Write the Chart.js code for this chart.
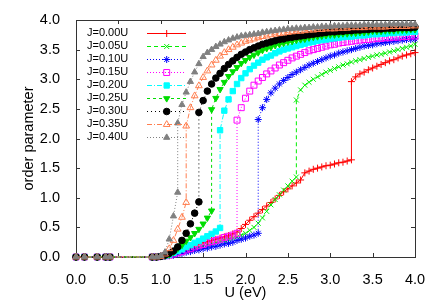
<!DOCTYPE html>
<html><head><meta charset="utf-8">
<script src="https://cdn.jsdelivr.net/npm/chart.js@4"></script>
<style>html,body{margin:0;padding:0;background:#fff}</style>
</head><body>
<canvas id="c" width="436" height="305"></canvas>
<script>
// U grid (eV)
const U = [0.00,0.05,0.10,0.15,0.20,0.25,0.30,0.35,0.40,0.45,
           0.50,0.55,0.60,0.65,0.70,0.75,0.80,0.85,0.90,0.95,
           1.00,1.05,1.10,1.15,1.20,1.25,1.30,1.35,1.40,1.45,
           1.50,1.55,1.60,1.65,1.70,1.75,1.80,1.85,1.90,1.95,
           2.00,2.05,2.10,2.15,2.20,2.25,2.30,2.35,2.40,2.45,
           2.50,2.55,2.60,2.65,2.70,2.75,2.80,2.85,2.90,2.95,
           3.00,3.05,3.10,3.15,3.20,3.25,3.30,3.35,3.40,3.45,
           3.50,3.55,3.60,3.65,3.70,3.75,3.80,3.85,3.90,3.95,
           4.00];

const labels = ['J=0.00U','J=0.05U','J=0.10U','J=0.15U','J=0.20U','J=0.25U','J=0.30U','J=0.35U','J=0.40U'];

const vJ000 = [0,null,0,null,null,0,null,0,0,null, null,null,null,null,null,null,null,null,0,0,
  0.02,0.03,0.05,0.07,0.09,0.11,0.14,0.17,0.19,0.22,
  0.24,0.26,0.28,0.30,0.32,0.34,0.36,0.39,0.42,0.48,
  0.55,0.62,0.68,0.74,0.80,0.86,0.92,0.98,1.04,1.10,
  1.15,1.20,1.25,1.30,1.42,1.45,1.48,1.50,1.52,1.54,
  1.55,1.57,1.59,1.60,1.62,1.64,3.04,3.09,3.12,3.16,
  3.19,3.22,3.25,3.28,3.31,3.33,3.36,3.39,3.41,3.43,
  3.45];
const vJ005 = [0,null,0,null,null,0,null,0,0,null, null,null,null,null,null,null,null,null,0,0,
  0.01,0.02,0.02,0.04,0.06,0.08,0.10,0.12,0.14,0.16,
  0.18,0.20,0.22,0.24,0.26,0.28,0.30,0.32,0.34,0.37,
  0.40,0.45,0.50,0.57,0.66,0.77,0.88,0.97,1.05,1.13,
  1.20,1.28,1.35,2.82,2.90,2.95,3.00,3.04,3.08,3.12,
  3.15,3.18,3.21,3.24,3.26,3.29,3.31,3.33,3.35,3.37,
  3.39,3.41,3.42,3.44,3.46,3.48,3.50,3.52,3.54,3.56,
  3.59];
const vJ010 = [0,null,0,null,null,0,null,0,0,null, null,null,null,null,null,null,null,null,0,0,
  0.01,0.01,0.02,0.03,0.05,0.06,0.08,0.09,0.11,0.12,
  0.14,0.15,0.17,0.18,0.20,0.22,0.23,0.25,0.28,0.30,
  0.32,0.35,0.37,0.40,2.52,2.66,2.77,2.85,2.92,2.98,
  3.03,3.08,3.12,3.16,3.20,3.24,3.27,3.30,3.33,3.36,
  3.39,3.41,3.44,3.46,3.48,3.50,3.52,3.54,3.56,3.57,
  3.58,3.60,3.61,3.62,3.63,3.64,3.65,3.66,3.67,3.67,
  3.68];
const vJ015 = [0,null,0,null,null,0,null,0,0,null, null,null,null,null,null,null,null,null,0,0,
  0.01,0.02,0.03,0.05,0.07,0.09,0.12,0.14,0.17,0.19,
  0.21,0.24,0.26,0.28,0.30,0.33,0.35,0.37,0.40,2.52,
  2.68,2.80,2.90,2.97,3.03,3.09,3.14,3.19,3.24,3.28,
  3.32,3.36,3.39,3.42,3.45,3.48,3.50,3.52,3.54,3.56,
  3.58,3.59,3.61,3.62,3.63,3.64,3.65,3.66,3.67,3.67,
  3.68,3.69,3.69,3.70,3.70,3.71,3.71,3.72,3.72,3.73,
  3.73];
const vJ020 = [0,null,0,null,null,0,null,0,0,null, null,null,null,null,null,null,null,null,0,0,
  0.01,0.02,0.04,0.07,0.10,0.13,0.17,0.20,0.24,0.27,
  0.31,0.35,0.39,0.43,0.49,2.47,2.66,2.80,2.92,3.02,
  3.10,3.17,3.23,3.28,3.33,3.37,3.40,3.44,3.47,3.50,
  3.52,3.54,3.56,3.58,3.60,3.62,3.63,3.65,3.66,3.67,
  3.68,3.69,3.70,3.71,3.72,3.72,3.73,3.74,3.74,3.75,
  3.76,3.76,3.77,3.77,3.78,3.78,3.79,3.79,3.79,3.80,
  3.80];
const vJ025 = [0,null,0,null,null,0,null,0,0,null, null,null,null,null,null,null,null,null,0,0,
  0.01,0.02,0.04,0.08,0.14,0.20,0.27,0.33,0.40,0.47,
  0.56,0.66,0.78,2.68,2.83,2.95,3.05,3.13,3.20,3.27,
  3.32,3.37,3.41,3.45,3.49,3.52,3.54,3.57,3.59,3.61,
  3.63,3.64,3.66,3.67,3.68,3.70,3.71,3.72,3.73,3.74,
  3.75,3.75,3.76,3.77,3.77,3.78,3.78,3.79,3.79,3.80,
  3.81,3.81,3.81,3.82,3.82,3.82,3.83,3.83,3.83,3.84,
  3.84];
const vJ030 = [0,null,0,null,null,0,null,0,0,null, null,null,null,null,null,null,null,null,0,0,
  0.01,0.03,0.06,0.10,0.17,0.28,0.40,0.56,0.74,0.93,
  2.64,2.80,2.92,3.02,3.10,3.18,3.25,3.31,3.37,3.42,
  3.46,3.50,3.53,3.56,3.59,3.61,3.63,3.65,3.67,3.68,
  3.70,3.71,3.72,3.73,3.74,3.75,3.76,3.77,3.78,3.79,
  3.80,3.80,3.81,3.81,3.82,3.82,3.83,3.83,3.84,3.84,
  3.85,3.85,3.85,3.86,3.86,3.86,3.87,3.87,3.87,3.87,
  3.88];
const vJ035 = [0,null,0,null,null,0,null,0,0,null, null,null,null,null,null,null,null,null,0,0,
  0.01,0.05,0.14,0.28,0.47,0.67,0.92,2.52,2.72,2.89,
  3.03,3.14,3.24,3.32,3.39,3.45,3.50,3.54,3.58,3.61,
  3.64,3.66,3.68,3.70,3.72,3.73,3.75,3.76,3.77,3.78,
  3.79,3.80,3.81,3.81,3.82,3.83,3.83,3.84,3.84,3.85,
  3.85,3.85,3.86,3.86,3.86,3.87,3.87,3.87,3.87,3.88,
  3.88,3.88,3.88,3.88,3.89,3.89,3.89,3.89,3.89,3.90,
  3.90];
const vJ040 = [0,null,0,null,null,0,null,0,0,null, null,null,null,null,null,null,null,null,0,0,
  0.02,0.08,0.30,0.69,1.09,2.57,2.78,2.96,3.12,3.26,
  3.38,3.45,3.50,3.55,3.59,3.63,3.66,3.69,3.71,3.73,
  3.74,3.75,3.76,3.77,3.79,3.80,3.81,3.82,3.83,3.84,
  3.85,3.85,3.86,3.86,3.87,3.87,3.88,3.88,3.89,3.89,
  3.89,3.90,3.90,3.90,3.91,3.91,3.91,3.91,3.92,3.92,
  3.92,3.92,3.92,3.92,3.93,3.93,3.93,3.93,3.93,3.93,
  3.93];

// index of the jump (same U appears twice) and the upper value there
const jumpIdx = [65,52,43,38,34,32,29,26,24];
const jumpTop = [2.96,2.65,2.32,2.31,2.14,2.49,2.44,2.21,2.26];

const xTicks = [0.0,0.5,1.0,1.5,2.0,2.5,3.0,3.5,4.0];
const yTicks = [0.0,0.5,1.0,1.5,2.0,2.5,3.0,3.5,4.0];

const series = [vJ000,vJ005,vJ010,vJ015,vJ020,vJ025,vJ030,vJ035,vJ040];

// styles
const colors = ['#ff0000','#00ee00','#0000ff','#ff00ff','#00ffff','#00dd00','#000000','#ff7f50','#808080'];
const pStyles = ['cross','crossRot','star','rect','rect','triangle','circle','triangle','triangle'];
const pRot = [0,0,0,0,0,180,0,0,0];
const pRad = [3.5,3.5,3.5,4.2,3.8,3.6,3.3,3.9,3.6];
const pFill = [false,false,false,false,true,true,true,false,true];
const dashes = [[],[4,3],[1,2],[1,2],[5,2,1,2],[3,3],[1,3],[5,2,1,2],[1,2]];

const FONT = 'Liberation Sans, Arial, sans-serif';

const datasets = series.map((vals, s) => {
  const pts = [];
  vals.forEach((v, i) => {
    if (v !== null) pts.push({x: U[i], y: v});
    if (i === jumpIdx[s]) pts.push({x: U[i], y: jumpTop[s]});
  });
  return {
    label: labels[s], data: pts, showLine: true,
    borderColor: colors[s], borderWidth: 1, borderDash: dashes[s],
    pointStyle: pStyles[s], pointRotation: pRot[s], pointRadius: pRad[s],
    pointBorderColor: colors[s], pointBorderWidth: 1,
    pointBackgroundColor: pFill[s] ? colors[s] : 'rgba(0,0,0,0)',
    fill: false, tension: 0, clip: false, order: series.length - s
  };
});

const framePlugin = {
  id: 'frame',
  beforeDatasetsDraw(chart) {
    const {ctx, chartArea: a, scales} = chart;
    ctx.save();
    ctx.strokeStyle = '#333'; ctx.lineWidth = 1;
    ctx.strokeRect(Math.round(a.left) + 0.5, Math.round(a.top) + 0.5,
                   Math.round(a.right - a.left), Math.round(a.bottom - a.top));
    const tl = 4;
    ctx.beginPath();
    xTicks.forEach(v => {
      const px = Math.round(scales.x.getPixelForValue(v)) + 0.5;
      ctx.moveTo(px, a.bottom); ctx.lineTo(px, a.bottom - tl);
      ctx.moveTo(px, a.top); ctx.lineTo(px, a.top + tl);
    });
    yTicks.forEach(v => {
      const py = Math.round(scales.y.getPixelForValue(v)) + 0.5;
      ctx.moveTo(a.left, py); ctx.lineTo(a.left + tl, py);
      ctx.moveTo(a.right, py); ctx.lineTo(a.right - tl, py);
    });
    ctx.stroke();
    ctx.restore();
  },
  afterDatasetsDraw(chart) {
    const {ctx, chartArea: a} = chart;
    ctx.save();
    ctx.font = '11px ' + FONT;
    ctx.textBaseline = 'middle';
    ctx.textAlign = 'left';
    chart.data.datasets.forEach((ds, s) => {
      const y = a.top + 13.3 + s * 12.92;
      ctx.fillStyle = '#000';
      ctx.fillText(ds.label, a.left + 11, y);
      ctx.strokeStyle = ds.borderColor; ctx.lineWidth = 1;
      ctx.setLineDash(ds.borderDash);
      ctx.beginPath();
      ctx.moveTo(a.left + 71, Math.round(y) + 0.5);
      ctx.lineTo(a.left + 110, Math.round(y) + 0.5);
      ctx.stroke();
      ctx.setLineDash([]);
      ctx.fillStyle = ds.pointBackgroundColor;
      ctx.strokeStyle = ds.pointBorderColor;
      Chart.helpers.drawPoint(ctx, {pointStyle: ds.pointStyle, rotation: ds.pointRotation,
        radius: ds.pointRadius, borderWidth: 1}, a.left + 90.7, Math.round(y) + 0.5);
    });
    ctx.restore();
  }
};

new Chart(document.getElementById('c'), {
  type: 'scatter',
  data: {datasets},
  options: {
    responsive: false, animation: false, devicePixelRatio: 1, events: [],
    layout: {padding: {top: 20, right: 21, left: 0, bottom: 0}},
    plugins: {legend: {display: false}, tooltip: {enabled: false}},
    scales: {
      x: {
        type: 'linear', min: 0, max: 4,
        afterBuildTicks: s => { s.ticks = xTicks.map(v => ({value: v})); },
        ticks: {callback: v => v.toFixed(1), color: '#000', font: {family: FONT, size: 14.5}, padding: 6, maxRotation: 0, autoSkip: false},
        grid: {display: false}, border: {display: false},
        title: {display: true, text: 'U (eV)', color: '#000', font: {family: FONT, size: 14.5}, padding: {top: 0, bottom: 3}},
        afterFit: s => { s.height = 48; }
      },
      y: {
        type: 'linear', min: 0, max: 4,
        afterBuildTicks: s => { s.ticks = yTicks.map(v => ({value: v})); },
        ticks: {callback: v => v.toFixed(1), color: '#000', font: {family: FONT, size: 14.5}, padding: 8},
        grid: {display: false}, border: {display: false},
        title: {display: true, text: 'order parameter', color: '#000', font: {family: FONT, size: 14.5}, padding: {top: 20, bottom: 0}},
        afterFit: s => { s.width = 76; }
      }
    }
  },
  plugins: [framePlugin]
});
</script>
</body></html>
